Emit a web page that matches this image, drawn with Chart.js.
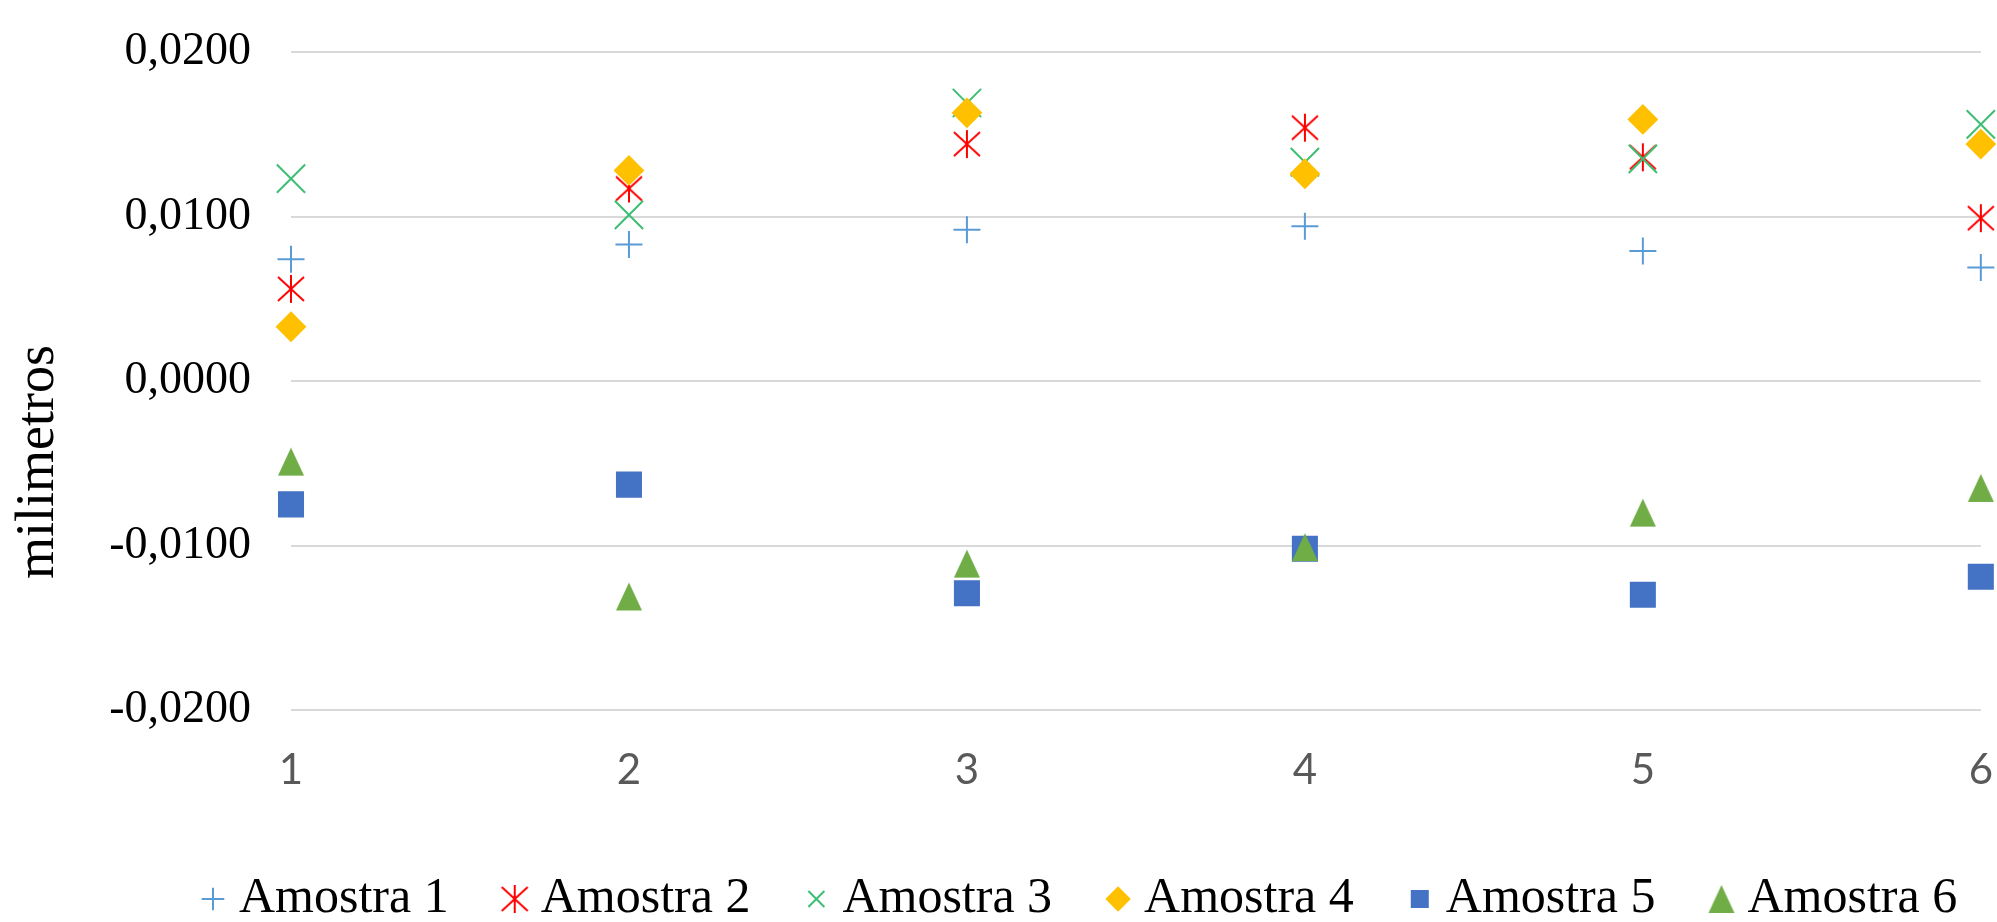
<!DOCTYPE html>
<html>
<head>
<meta charset="utf-8">
<script src="https://cdn.jsdelivr.net/npm/chart.js@4.4.1/dist/chart.umd.min.js"></script>
<style>
  body { margin: 0; background: #fff; overflow: hidden; }
</style>
</head>
<body>
<canvas id="theChart" width="1997" height="922"></canvas>
<script>
// x positions (sample index) and values in millimetres
const xValues = [1, 2, 3, 4, 5, 6];
const amostra1 = [0.0074, 0.0083, 0.0092, 0.0094, 0.0079, 0.0069];
const amostra2 = [0.0056, 0.0117, 0.0144, 0.0154, 0.0136, 0.0099];
const amostra3 = [0.0123, 0.0101, 0.0169, 0.0133, 0.0135, 0.0156];
const amostra4 = [0.0033, 0.0128, 0.0163, 0.0126, 0.0159, 0.0144];
const amostra5 = [-0.0075, -0.0063, -0.0129, -0.0102, -0.0130, -0.0119];
const amostra6 = [-0.0049, -0.0131, -0.0111, -0.0101, -0.0080, -0.0065];
const seriesNames = ['Amostra 1', 'Amostra 2', 'Amostra 3', 'Amostra 4', 'Amostra 5', 'Amostra 6'];

// excel-like asterisk (vertical bar + X), chart.js 'star' has 8 spokes
function makeAsterisk(color) {
  const c = document.createElement('canvas');
  c.width = 30; c.height = 30;
  const ctx = c.getContext('2d');
  ctx.strokeStyle = color;
  ctx.lineWidth = 2;
  ctx.beginPath();
  ctx.moveTo(15, 1); ctx.lineTo(15, 29);
  ctx.moveTo(2, 3); ctx.lineTo(28, 27);
  ctx.moveTo(28, 3); ctx.lineTo(2, 27);
  ctx.stroke();
  return c;
}

function makeTriangle(color) {
  const c = document.createElement('canvas');
  c.width = 28; c.height = 30;
  const ctx = c.getContext('2d');
  ctx.fillStyle = color;
  ctx.beginPath();
  ctx.moveTo(14, 1); ctx.lineTo(27, 29); ctx.lineTo(1, 29);
  ctx.closePath();
  ctx.fill();
  return c;
}

function toPoints(arr) {
  return arr.map((v, i) => ({ x: xValues[i], y: v }));
}

const styles = [
  { color: '#5B9BD5', pointStyle: 'cross', radius: 13.5 },
  { color: '#FF0000', pointStyle: makeAsterisk('#FF0000'), radius: 15 },
  { color: '#3CBF72', pointStyle: 'crossRot', radius: 20 },
  { color: '#FFC000', pointStyle: 'rectRot', radius: 14 },
  { color: '#4472C4', pointStyle: 'rect', radius: 17 },
  { color: '#70AD47', pointStyle: makeTriangle('#70AD47'), radius: 15 },
];
const allSeries = [amostra1, amostra2, amostra3, amostra4, amostra5, amostra6];

const datasets = allSeries.map((arr, i) => ({
  label: seriesNames[i],
  data: toPoints(arr),
  pointStyle: styles[i].pointStyle,
  pointRadius: styles[i].radius,
  pointHoverRadius: styles[i].radius,
  borderColor: styles[i].color,
  backgroundColor: styles[i].color,
  borderWidth: 2,
  showLine: false,
  clip: false,
  order: 6 - i // later series on top, like excel
}));

// push the legend row to where it sits in the original
const legendShift = {
  id: 'legendShift',
  afterLayout(chart) {
    const lg = chart.legend;
    if (!lg) return;
    lg.left = 147;
    lg.right = 2300; // keep all six items on one row
    lg.top += 12;
    lg.bottom += 12;
  }
};

const cfg = {
  type: 'scatter',
  data: { datasets: datasets },
  plugins: [legendShift],
  options: {
    responsive: false,
    animation: false,
    devicePixelRatio: 1,
    layout: { autoPadding: false, padding: { top: 52, right: 16, bottom: 0, left: 0 } },
    scales: {
      x: {
        type: 'linear',
        min: 1,
        max: 6,
        afterFit: (s) => { s.height = 87; },
        grid: { display: false, drawTicks: false },
        border: { display: false },
        ticks: {
          stepSize: 1,
          padding: 4,
          color: '#595959',
          // tall line box pushes the label down without adding side padding
          font: { family: 'Lato', size: 42, lineHeight: 2.7 }
        }
      },
      y: {
        min: -0.02,
        max: 0.02,
        afterFit: (s) => { s.width = 291; },
        grid: { color: '#D9D9D9', lineWidth: 2, drawTicks: false },
        border: { display: false },
        ticks: {
          stepSize: 0.01,
          padding: 40,
          color: '#000',
          font: { family: 'Liberation Serif', size: 46, lineHeight: 0.5 },
          callback: (v) => (Math.abs(v) < 1e-9 ? 0 : v).toFixed(4).replace('.', ',')
        },
        title: {
          display: true,
          text: 'milimetros' + '\u00A0'.repeat(12),
          color: '#000',
          font: { family: 'Liberation Serif', size: 54 },
          padding: { top: 6, bottom: 0 }
        }
      }
    },
    plugins: {
      legend: {
        position: 'bottom',
        align: 'start',
        labels: {
          usePointStyle: true,
          boxWidth: 2,
          boxHeight: 16,
          padding: 65,
          color: '#000',
          font: { family: 'Liberation Serif', size: 50, lineHeight: 1 },
          sort: (a, b) => a.datasetIndex - b.datasetIndex
        }
      },
      tooltip: { enabled: false }
    }
  }
};

const myChart = new Chart(document.getElementById('theChart').getContext('2d'), cfg);
</script>
</body>
</html>
